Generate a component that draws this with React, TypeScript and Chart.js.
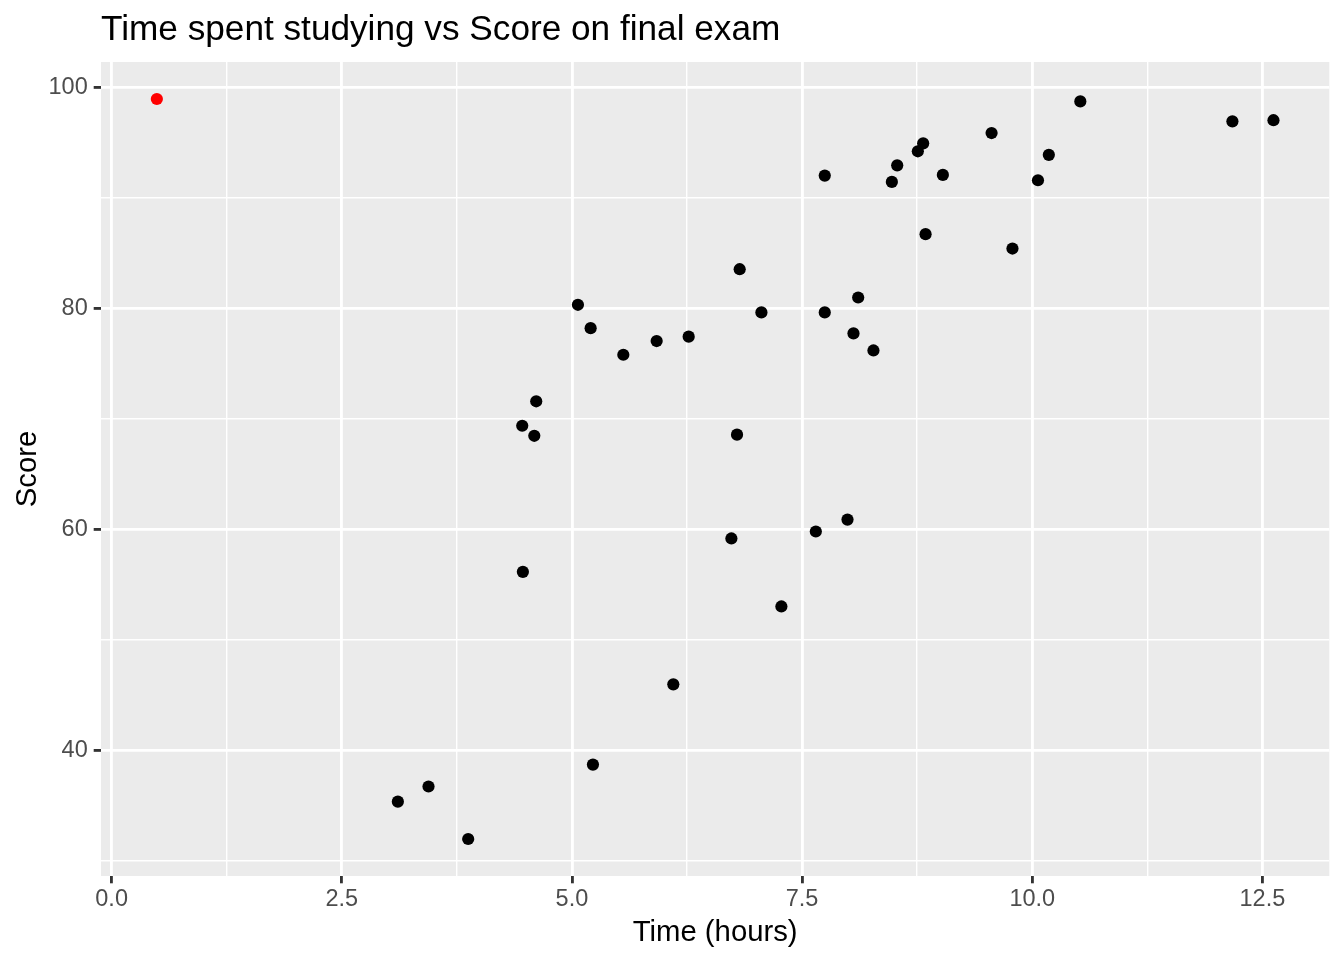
import { useEffect, useRef } from "react";
import { Chart, registerables } from "chart.js";

Chart.register(...registerables);

// ---- data ----
const timeHours = [
  3.109, 3.442, 3.873, 4.467, 4.46, 4.591, 4.612, 5.065, 5.203, 5.228,
  5.558, 5.92, 6.101, 6.268, 6.732, 6.793, 6.822, 7.058, 7.275, 7.649,
  7.746, 7.746, 7.993, 8.058, 8.109, 8.275, 8.475, 8.533, 8.757, 8.815,
  8.841, 9.029, 9.558, 9.785, 10.062, 10.18, 10.522, 12.174, 12.62,
];
const scores = [
  35.35, 36.72, 31.97, 56.14, 69.36, 68.45, 71.57, 80.3, 78.19, 38.7,
  75.78, 77.02, 45.96, 77.42, 59.16, 68.55, 83.52, 79.61, 53.01, 59.79,
  91.99, 79.61, 60.87, 77.71, 80.96, 76.17, 91.42, 92.92, 94.19, 94.91,
  86.69, 92.05, 95.84, 85.39, 91.57, 93.87, 98.7, 96.9, 97.0,
];
const outlierTime = [0.491];
const outlierScore = [98.92];

const xMinorStep = 1.25; // major every 2.5
const yMinorStep = 10; // major every 20

const chartTitle = "Time spent studying vs Score on final exam";
const xAxisTitle = "Time (hours)";
const yAxisTitle = "Score";

const FONT = "'Liberation Sans', Arial, Helvetica, sans-serif";

function expandRange(vals: number[]): [number, number] {
  const mn = Math.min(...vals);
  const mx = Math.max(...vals);
  const pad = (mx - mn) * 0.05;
  return [mn - pad, mx + pad];
}

const isMultiple = (v: number, step: number) =>
  Math.abs(v / step - Math.round(v / step)) < 1e-6;

const ggPlugin = {
  id: "ggTheme",
  beforeDraw(chart: any) {
    const { ctx, chartArea: a } = chart;
    ctx.save();
    ctx.fillStyle = "#EBEBEB";
    ctx.fillRect(a.left, a.top, a.right - a.left, a.bottom - a.top);
    ctx.restore();
  },
  afterDraw(chart: any) {
    const { ctx, chartArea: a } = chart;
    ctx.save();
    ctx.fillStyle = "#000000";
    ctx.textBaseline = "alphabetic";
    // title
    ctx.font = `35.2px ${FONT}`;
    ctx.textAlign = "left";
    ctx.fillText(chartTitle, a.left, 40);
    // x title
    ctx.font = `29.3px ${FONT}`;
    ctx.textAlign = "center";
    ctx.fillText(xAxisTitle, (a.left + a.right) / 2, 941);
    // y title
    ctx.translate(36, (a.top + a.bottom) / 2);
    ctx.rotate(-Math.PI / 2);
    ctx.fillText(yAxisTitle, 0, 0);
    ctx.restore();
  },
};

export default function App() {
  const canvasRef = useRef<HTMLCanvasElement | null>(null);

  useEffect(() => {
    document.body.style.margin = "0";
    const canvas = canvasRef.current;
    if (!canvas) return;

    const [xMin, xMax] = expandRange([...timeHours, ...outlierTime]);
    const [yMin, yMax] = expandRange([...scores, ...outlierScore]);

    const chart = new Chart(canvas, {
      type: "scatter",
      data: {
        datasets: [
          {
            data: timeHours.map((t, i) => ({ x: t, y: scores[i] })),
            backgroundColor: "#000000",
            borderWidth: 0,
            pointRadius: 6.1,
            pointHoverRadius: 6.1,
          },
          {
            data: outlierTime.map((t, i) => ({ x: t, y: outlierScore[i] })),
            backgroundColor: "#FF0000",
            borderWidth: 0,
            pointRadius: 6.1,
            pointHoverRadius: 6.1,
          },
        ],
      },
      options: {
        responsive: false,
        animation: false,
        devicePixelRatio: 1,
        layout: { padding: { top: 62, right: 14.7, left: 0, bottom: 0 } },
        plugins: {
          legend: { display: false },
          tooltip: { enabled: false },
          title: { display: false },
        },
        scales: {
          x: {
            type: "linear",
            min: xMin,
            max: xMax,
            border: { display: false },
            afterFit: (scale: any) => {
              scale.height = 84;
            },
            grid: {
              color: "#FFFFFF",
              lineWidth: (c: any) => (isMultiple(c.tick.value, 2.5) ? 2.84 : 1.42),
              tickColor: (c: any) =>
                isMultiple(c.tick.value, 2.5) ? "#333333" : "rgba(0,0,0,0)",
              tickWidth: 2.84,
              tickLength: 7.3,
              drawTicks: true,
            },
            ticks: {
              stepSize: xMinorStep,
              includeBounds: false,
              autoSkip: false,
              maxRotation: 0,
              minRotation: 0,
              padding: 2,
              color: "#4D4D4D",
              font: { family: FONT, size: 23.5 },
              callback: (v: any) => (isMultiple(Number(v), 2.5) ? Number(v).toFixed(1) : ""),
            },
          },
          y: {
            type: "linear",
            min: yMin,
            max: yMax,
            border: { display: false },
            afterFit: (scale: any) => {
              scale.width = 101;
            },
            grid: {
              color: "#FFFFFF",
              lineWidth: (c: any) => (isMultiple(c.tick.value, 20) ? 2.84 : 1.42),
              tickColor: (c: any) =>
                isMultiple(c.tick.value, 20) ? "#333333" : "rgba(0,0,0,0)",
              tickWidth: 2.84,
              tickLength: 7.3,
              drawTicks: true,
            },
            ticks: {
              stepSize: yMinorStep,
              includeBounds: false,
              autoSkip: false,
              padding: 6,
              color: "#4D4D4D",
              font: { family: FONT, size: 23.5 },
              callback: (v: any) => (isMultiple(Number(v), 20) ? String(v) : ""),
            },
          },
        },
      },
      plugins: [ggPlugin],
    } as any);

    return () => chart.destroy();
  }, []);

  return (
    <div style={{ width: 1344, height: 960 }}>
      <canvas ref={canvasRef} width={1344} height={960} style={{ display: "block" }} />
    </div>
  );
}
